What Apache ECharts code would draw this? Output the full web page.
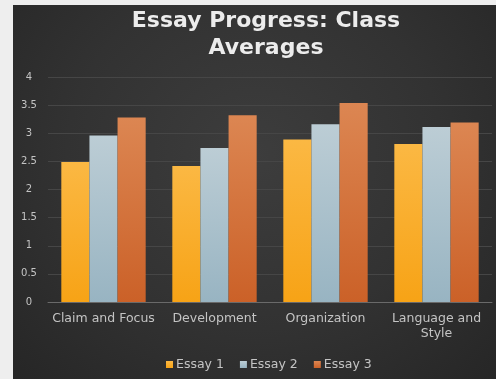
<!DOCTYPE html>
<html>
<head>
<meta charset="utf-8">
<script src="https://cdn.jsdelivr.net/npm/echarts@6/dist/echarts.min.js"></script>
<style>
  html, body { margin: 0; padding: 0; background: #eeeeee; }
  #panel {
    position: absolute; left: 13px; top: 5px; width: 483px; height: 374px;
    background: radial-gradient(ellipse at 50% 40%, #3d3d3d 0%, #323232 55%, #262626 100%);
  }
  #chart { position: absolute; left: 0; top: 0; width: 496px; height: 379px; }
</style>
</head>
<body>
<div id="panel"></div>
<div id="chart"></div>
<script>
// Rubric categories and the class average for each essay
const categories = ['Claim and Focus', 'Development', 'Organization', 'Language and\nStyle'];
const essay1 = [2.49, 2.42, 2.89, 2.81];
const essay2 = [2.96, 2.74, 3.16, 3.11];
const essay3 = [3.28, 3.32, 3.54, 3.19];
const seriesNames = ['Essay 1', 'Essay 2', 'Essay 3'];
const yTicks = { min: 0, max: 4, interval: 0.5 };

const FONT = 'DejaVu Sans, Verdana, sans-serif';

function vgrad(top, bottom) {
  return new echarts.graphic.LinearGradient(0, 0, 0, 1, [
    { offset: 0, color: top },
    { offset: 1, color: bottom }
  ]);
}

const chart = echarts.init(document.getElementById('chart'), null, { renderer: 'canvas' });

const option = {
  backgroundColor: 'transparent',
  animation: false,
  color: ['#f7a824', '#a9c0cb', '#d06c36'],
  title: {
    text: 'Essay Progress: Class\nAverages',
    left: 261,
    textAlign: 'center',
    top: 3,
    textStyle: {
      color: '#ececec',
      fontFamily: FONT,
      fontWeight: 'bold',
      fontSize: 22,
      lineHeight: 27
    }
  },
  legend: {
    data: seriesNames,
    left: 161,
    top: 353,
    itemWidth: 7,
    itemHeight: 7,
    itemGap: 16,
    icon: 'rect',
    textStyle: {
      color: '#c4c4c4',
      fontFamily: FONT,
      fontSize: 12.5,
      padding: [0, 0, 0, -2]
    }
  },
  grid: { left: 48, right: 4, top: 77, bottom: 77 },
  xAxis: {
    type: 'category',
    data: categories,
    axisLine: { lineStyle: { color: '#6a6a6a', width: 1 } },
    axisTick: { show: false },
    axisLabel: {
      color: '#c4c4c4',
      fontFamily: FONT,
      fontSize: 12.5,
      lineHeight: 15,
      margin: 9,
      interval: 0
    }
  },
  yAxis: {
    type: 'value',
    min: yTicks.min,
    max: yTicks.max,
    interval: yTicks.interval,
    axisLine: { show: false },
    axisTick: { show: false },
    splitLine: { lineStyle: { color: '#464646', width: 1 } },
    axisLabel: {
      color: '#c4c4c4',
      fontFamily: FONT,
      fontSize: 10,
      align: 'center',
      margin: 19
    }
  },
  series: [
    {
      name: seriesNames[0], type: 'bar', data: essay1,
      barCategoryGap: '24%', barGap: '0%',
      itemStyle: { color: vgrad('#fbb843', '#f7a316') }
    },
    {
      name: seriesNames[1], type: 'bar', data: essay2,
      barGap: '0%',
      itemStyle: { color: vgrad('#bccdd5', '#98b4c2') }
    },
    {
      name: seriesNames[2], type: 'bar', data: essay3,
      barGap: '0%',
      itemStyle: { color: vgrad('#dc8652', '#cb6128') }
    }
  ]
};

chart.setOption(option);
</script>
</body>
</html>
